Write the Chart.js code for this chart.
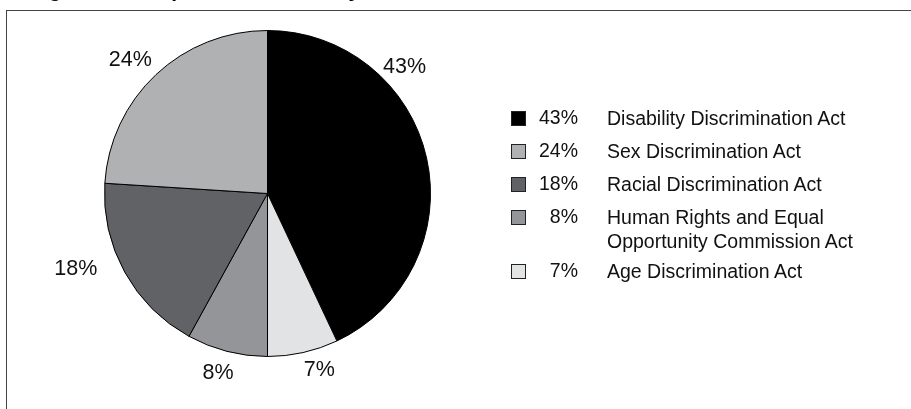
<!DOCTYPE html>
<html>
<head>
<meta charset="utf-8">
<script src="https://cdn.jsdelivr.net/npm/chart.js@4.4.1/dist/chart.umd.min.js"></script>
<style>
  html, body { margin: 0; padding: 0; background: #fff; }
  #wrap { position: relative; width: 911px; height: 409px; overflow: hidden; font-family: "Liberation Sans", Arial, sans-serif; }
  #frame { position: absolute; left: 6px; top: 10px; right: -10px; bottom: -10px; border-left: 1.5px solid #444; border-top: 1.5px solid #444; }
  #title { position: absolute; left: 30px; top: -21px; font-weight: bold; font-size: 21px; line-height: 21px; color: #000; white-space: nowrap; }
  #legend { position: absolute; left: 0; top: 0; }
  .row { position: absolute; left: 0; width: 400px; font-size: 19.5px; color: #111; }
  .box { position: absolute; left: 511px; width: 13px; height: 13px; border: 0.8px solid #222; }
  .pct { position: absolute; left: 530px; width: 48px; text-align: right; }
  .lab { position: absolute; left: 607px; line-height: 24px; white-space: nowrap; }
</style>
</head>
<body>
<div id="wrap">
  <div id="title">Figure 2: Complaints received by Act</div>
  <div id="frame"></div>
  <canvas id="graphCanvas" width="911" height="409"></canvas>
  <div id="legend"></div>
</div>
<script>
var labels = ['Disability Discrimination Act', 'Age Discrimination Act', 'Human Rights and Equal Opportunity Commission Act', 'Racial Discrimination Act', 'Sex Discrimination Act'];
var shares = [43, 7, 8, 18, 24];
var colours = ['#000000', '#e2e3e5', '#939598', '#616266', '#b0b1b3'];

// legend order as in the figure
var legendOrder = [0, 4, 3, 2, 1];
var legendText = ['Disability Discrimination Act', 'Sex Discrimination Act', 'Racial Discrimination Act', 'Human Rights and Equal<br>Opportunity Commission Act', 'Age Discrimination Act'];

// where each outside label sits: angle from top (deg, clockwise) and radius factor
var labelAngle = [47, 163.5, 195.5, 249, 314.5];
var labelDist = [1.15, 1.12, 1.135, 1.26, 1.18];

function buildLegend() {
    var tops = [108, 141, 174, 207, 261];
    var html = '';
    for (var i = 0; i < legendOrder.length; i++) {
        var k = legendOrder[i];
        var t = tops[i];
        html += '<div class="row" style="top:' + t + 'px">' +
            '<div class="box" style="top:3px;background:' + colours[k] + '"></div>' +
            '<div class="pct" style="top:-2px">' + shares[k] + '%</div>' +
            '<div class="lab" style="top:-2px">' + legendText[i] + '</div></div>';
    }
    document.getElementById('legend').innerHTML = html;
}

var outsideLabels = {
    id: 'outsideLabels',
    afterDatasetsDraw: function (chart) {
        var ctx = chart.ctx;
        var arc = chart.getDatasetMeta(0).data[0];
        var cx = arc.x, cy = arc.y, r = arc.outerRadius;
        ctx.save();
        ctx.font = '21.5px "Liberation Sans", Arial, sans-serif';
        ctx.fillStyle = '#111';
        ctx.textAlign = 'center';
        ctx.textBaseline = 'middle';
        for (var i = 0; i < shares.length; i++) {
            var a = labelAngle[i] * Math.PI / 180;
            var d = r * labelDist[i];
            ctx.fillText(shares[i] + '%', cx + Math.sin(a) * d, cy - Math.cos(a) * d + 1.5);
        }
        ctx.restore();
    }
};

function showGraph() {
    var chartdata = {
        labels: labels,
        datasets: [
            {
                data: shares,
                backgroundColor: colours,
                borderColor: '#000',
                borderWidth: 1
            }
        ]
    };

    var graphTarget = document.getElementById('graphCanvas');

    var pieGraph = new Chart(graphTarget, {
        type: 'pie',
        data: chartdata,
        options: {
            responsive: false,
            animation: false,
            layout: { padding: { left: 104, right: 480, top: 30, bottom: 52 } },
            plugins: {
                legend: { display: false },
                tooltip: { enabled: false }
            }
        },
        plugins: [outsideLabels]
    });
}

buildLegend();
showGraph();
</script>
</body>
</html>
